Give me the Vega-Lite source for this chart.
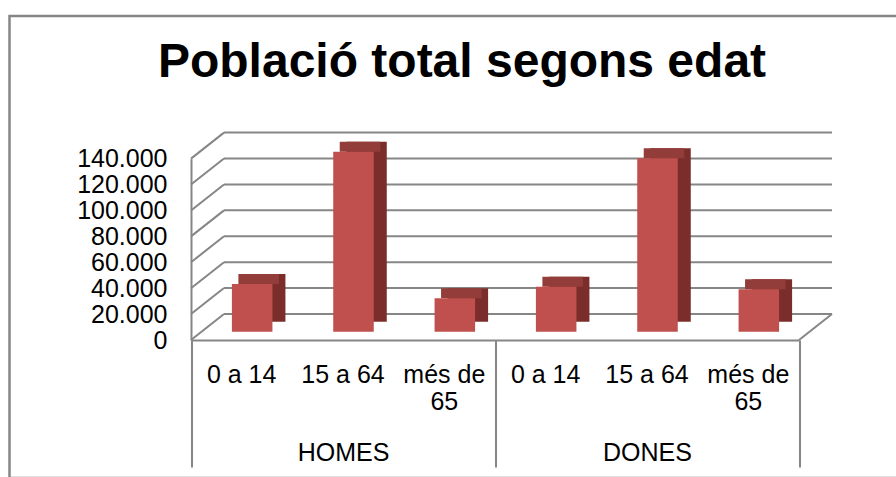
{
  "$schema": "https://vega.github.io/schema/vega-lite/v6.json",
  "width": 900,
  "height": 462,
  "autosize": {"type": "none"},
  "padding": {"left": 9.5, "top": 16, "right": 0, "bottom": 0},
  "background": "white",
  "config": {
    "view": {"stroke": "#868686", "strokeWidth": 2.5},
    "font": "Liberation Sans"
  },
  "title": {
    "text": "Població total segons edat",
    "font": "Liberation Sans",
    "fontSize": 48,
    "fontWeight": "bold",
    "color": "#000000",
    "anchor": "middle",
    "frame": "group",
    "offset": -64,
    "baseline": "alphabetic",
    "dx": 2.5,
    "dy": 45
  },
  "datasets": {
    "pop": [
      {"group": "HOMES", "sub": "0 a 14", "key": "HOMES|0 a 14", "value": 36800},
      {"group": "HOMES", "sub": "15 a 64", "key": "HOMES|15 a 64", "value": 138900},
      {"group": "HOMES", "sub": "més de 65", "key": "HOMES|més de 65", "value": 25800},
      {"group": "DONES", "sub": "0 a 14", "key": "DONES|0 a 14", "value": 34700},
      {"group": "DONES", "sub": "15 a 64", "key": "DONES|15 a 64", "value": 133800},
      {"group": "DONES", "sub": "més de 65", "key": "DONES|més de 65", "value": 32700}
    ],
    "ticks": [
      {"v": 0}, {"v": 20000}, {"v": 40000}, {"v": 60000},
      {"v": 80000}, {"v": 100000}, {"v": 120000}, {"v": 140000}
    ],
    "one": [{"edge": "floor"}]
  },
  "layer": [
    {
      "data": {"name": "ticks"},
      "mark": {"type": "rule", "color": "#868686", "strokeWidth": 2, "xOffset": 33, "x2Offset": 33, "yOffset": -26, "y2Offset": -26},
      "encoding": {
        "x": {"datum": 0, "type": "quantitative", "scale": {"domain": [0, 1], "range": [181.5, 789.5]}, "axis": null},
        "x2": {"datum": 1},
        "y": {
          "field": "v", "type": "quantitative",
          "scale": {"domain": [0, 140000], "range": [324, 142.6], "nice": false},
          "axis": {
            "orient": "left", "offset": -181.5,
            "values": [0, 20000, 40000, 60000, 80000, 100000, 120000, 140000],
            "labelExpr": "replace(format(datum.value, ','), ',', '.')",
            "labelFont": "Liberation Sans", "labelFontSize": 25, "labelColor": "#000000",
            "labelPadding": 24, "ticks": false, "grid": false,
            "domain": true, "domainColor": "#868686", "domainWidth": 2,
            "title": null, "labelFlush": false, "labelOverlap": false, "labelBound": false
          }
        },
        "y2": {"field": "v"}
      }
    },
    {
      "data": {"name": "ticks"},
      "mark": {"type": "rule", "color": "#868686", "strokeWidth": 2, "x2Offset": 33, "y2Offset": -26},
      "encoding": {
        "x": {"datum": 0, "type": "quantitative", "scale": {"domain": [0, 1], "range": [181.5, 789.5]}, "axis": null},
        "x2": {"datum": 0},
        "y": {"field": "v", "type": "quantitative", "axis": null},
        "y2": {"field": "v"}
      }
    },
    {
      "data": {"name": "one"},
      "mark": {"type": "rule", "color": "#868686", "strokeWidth": 2, "x2Offset": 33, "y2Offset": -26},
      "encoding": {
        "x": {"datum": 1, "type": "quantitative", "scale": {"domain": [0, 1], "range": [181.5, 789.5]}, "axis": null},
        "x2": {"datum": 1},
        "y": {"datum": 0, "type": "quantitative", "axis": null},
        "y2": {"datum": 0}
      }
    },
    {
      "data": {"name": "pop"},
      "mark": {"type": "bar", "opacity": 0},
      "encoding": {
        "x": {
          "field": "group", "type": "nominal", "sort": null,
          "scale": {"range": [181.5, 789.5], "paddingInner": 0, "paddingOuter": 0},
          "axis": {
            "orient": "bottom", "offset": -138, "tickBand": "extent",
            "ticks": true, "tickColor": "#868686", "tickWidth": 2, "tickSize": 127,
            "domain": true, "domainColor": "#868686", "domainWidth": 2,
            "labelPadding": -26.5, "labelFont": "Liberation Sans", "labelFontSize": 25,
            "labelColor": "#000000", "labelAngle": 0, "title": null,
            "labelFlush": false, "labelOverlap": false, "labelBound": false
          }
        },
        "y": {"field": "value", "type": "quantitative", "axis": null}
      }
    },
    {
      "data": {"name": "pop"},
      "mark": {"type": "bar", "color": "#7B2D2B", "xOffset": 23.5, "yOffset": -18.3, "y2Offset": -18.3},
      "encoding": {
        "x": {"field": "key", "type": "nominal", "sort": null, "scale": {"range": [181.5, 789.5], "paddingInner": 0.6, "paddingOuter": 0.3}, "axis": null},
        "y": {"field": "value", "type": "quantitative", "axis": null}
      }
    },
    {
      "data": {"name": "pop"},
      "mark": {"type": "bar", "color": "#923D3A", "xOffset": 17, "yOffset": -18.3, "y2Offset": -8.3},
      "encoding": {
        "x": {"field": "key", "type": "nominal", "sort": null, "scale": {"range": [181.5, 789.5], "paddingInner": 0.6, "paddingOuter": 0.3}, "axis": null},
        "y": {"field": "value", "type": "quantitative", "axis": null},
        "y2": {"field": "value"}
      }
    },
    {
      "data": {"name": "pop"},
      "mark": {"type": "bar", "color": "#C0504D", "xOffset": 10.5, "yOffset": -8.3, "y2Offset": -8.3},
      "encoding": {
        "x": {
          "field": "key", "type": "nominal", "sort": null,
          "scale": {"range": [181.5, 789.5], "paddingInner": 0.6, "paddingOuter": 0.3},
          "axis": {
            "orient": "bottom", "offset": -138, "ticks": false, "domain": false, "grid": false,
            "labelExpr": "split(datum.label, '|')[1] === 'més de 65' ? ['més de', '65'] : split(datum.label, '|')[1]",
            "labelFont": "Liberation Sans", "labelFontSize": 25, "labelColor": "#000000",
            "labelPadding": 22.5, "labelLineHeight": 26.6, "labelAngle": 0, "title": null,
            "labelFlush": false, "labelOverlap": false, "labelBound": false
          }
        },
        "y": {"field": "value", "type": "quantitative", "axis": null}
      }
    }
  ],
  "resolve": {"scale": {"x": "independent"}, "axis": {"y": "independent"}}
}
